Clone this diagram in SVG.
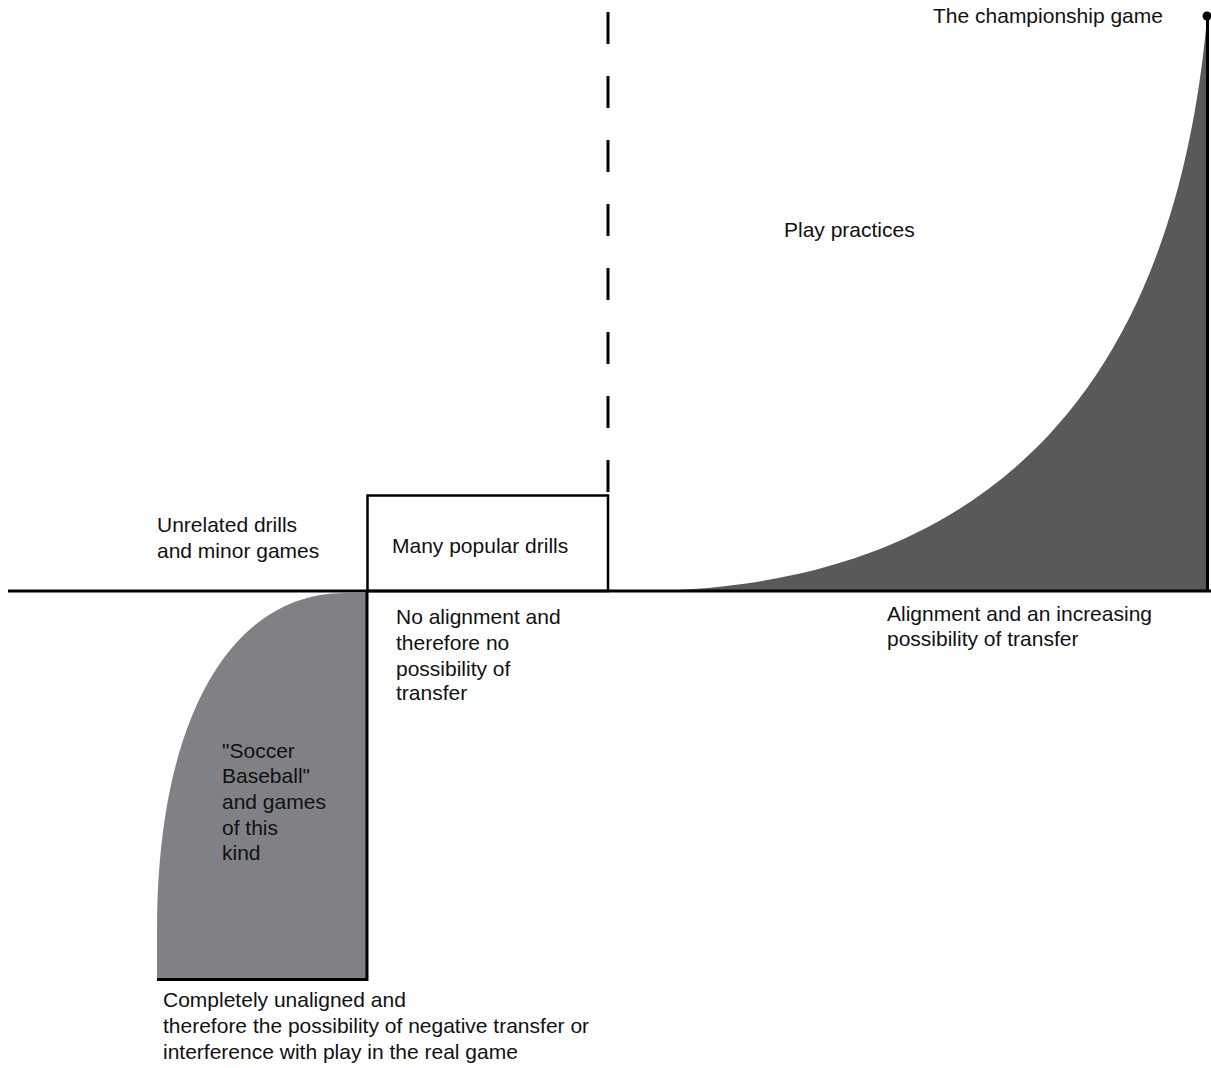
<svg xmlns="http://www.w3.org/2000/svg" width="1211" height="1068" viewBox="0 0 1211 1068">
<style>
text{font-family:"Liberation Sans",Arial,sans-serif;font-size:21px;fill:#111}
.ln{stroke:#000;stroke-width:3;fill:none}
</style>
<rect width="1211" height="1068" fill="#fff"/>
<g id="negative-area">
<path d="M157,979 L157,930 C157,720 230,593 345,593 L367,593 L367,979 Z" fill="#808184"/>
</g>
<g id="positive-area">
<path d="M650,591 C950,585 1170,430 1207,18 L1207,591 Z" fill="#58595b"/>
</g>
<g id="connectors">
<line class="ln" x1="8" y1="591" x2="1211" y2="591"/>
<line class="ln" x1="608" y1="12" x2="608" y2="495" stroke-dasharray="32,32"/>
<line class="ln" x1="367" y1="591" x2="367" y2="981"/>
<line class="ln" x1="157" y1="979.5" x2="368" y2="979.5"/>
<line class="ln" x1="1207.5" y1="16" x2="1207.5" y2="592"/>
<circle cx="1207" cy="16" r="4.5" fill="#000"/>
</g>
<g id="box-many-popular-drills">
<rect x="367.5" y="495.5" width="240.5" height="95.5" fill="none" stroke="#000" stroke-width="2.5"/>
<text x="392" y="553">Many popular drills</text>
</g>
<g id="label-championship"><text x="933" y="23">The championship game</text></g>
<g id="label-play-practices"><text x="784" y="237">Play practices</text></g>
<g id="label-unrelated">
<text x="157" y="532">Unrelated drills</text>
<text x="157" y="558">and minor games</text>
</g>
<g id="label-no-alignment">
<text x="396" y="624">No alignment and</text>
<text x="396" y="650">therefore no</text>
<text x="396" y="676">possibility of</text>
<text x="396" y="700">transfer</text>
</g>
<g id="label-alignment">
<text x="887" y="621">Alignment and an increasing</text>
<text x="887" y="646">possibility of transfer</text>
</g>
<g id="label-soccer-baseball">
<text x="222" y="758">"Soccer</text>
<text x="222" y="783">Baseball"</text>
<text x="222" y="809">and games</text>
<text x="222" y="835">of this</text>
<text x="222" y="860">kind</text>
</g>
<g id="label-unaligned">
<text x="163" y="1007">Completely unaligned and</text>
<text x="163" y="1033">therefore the possibility of negative transfer or</text>
<text x="163" y="1059">interference with play in the real game</text>
</g>
</svg>
